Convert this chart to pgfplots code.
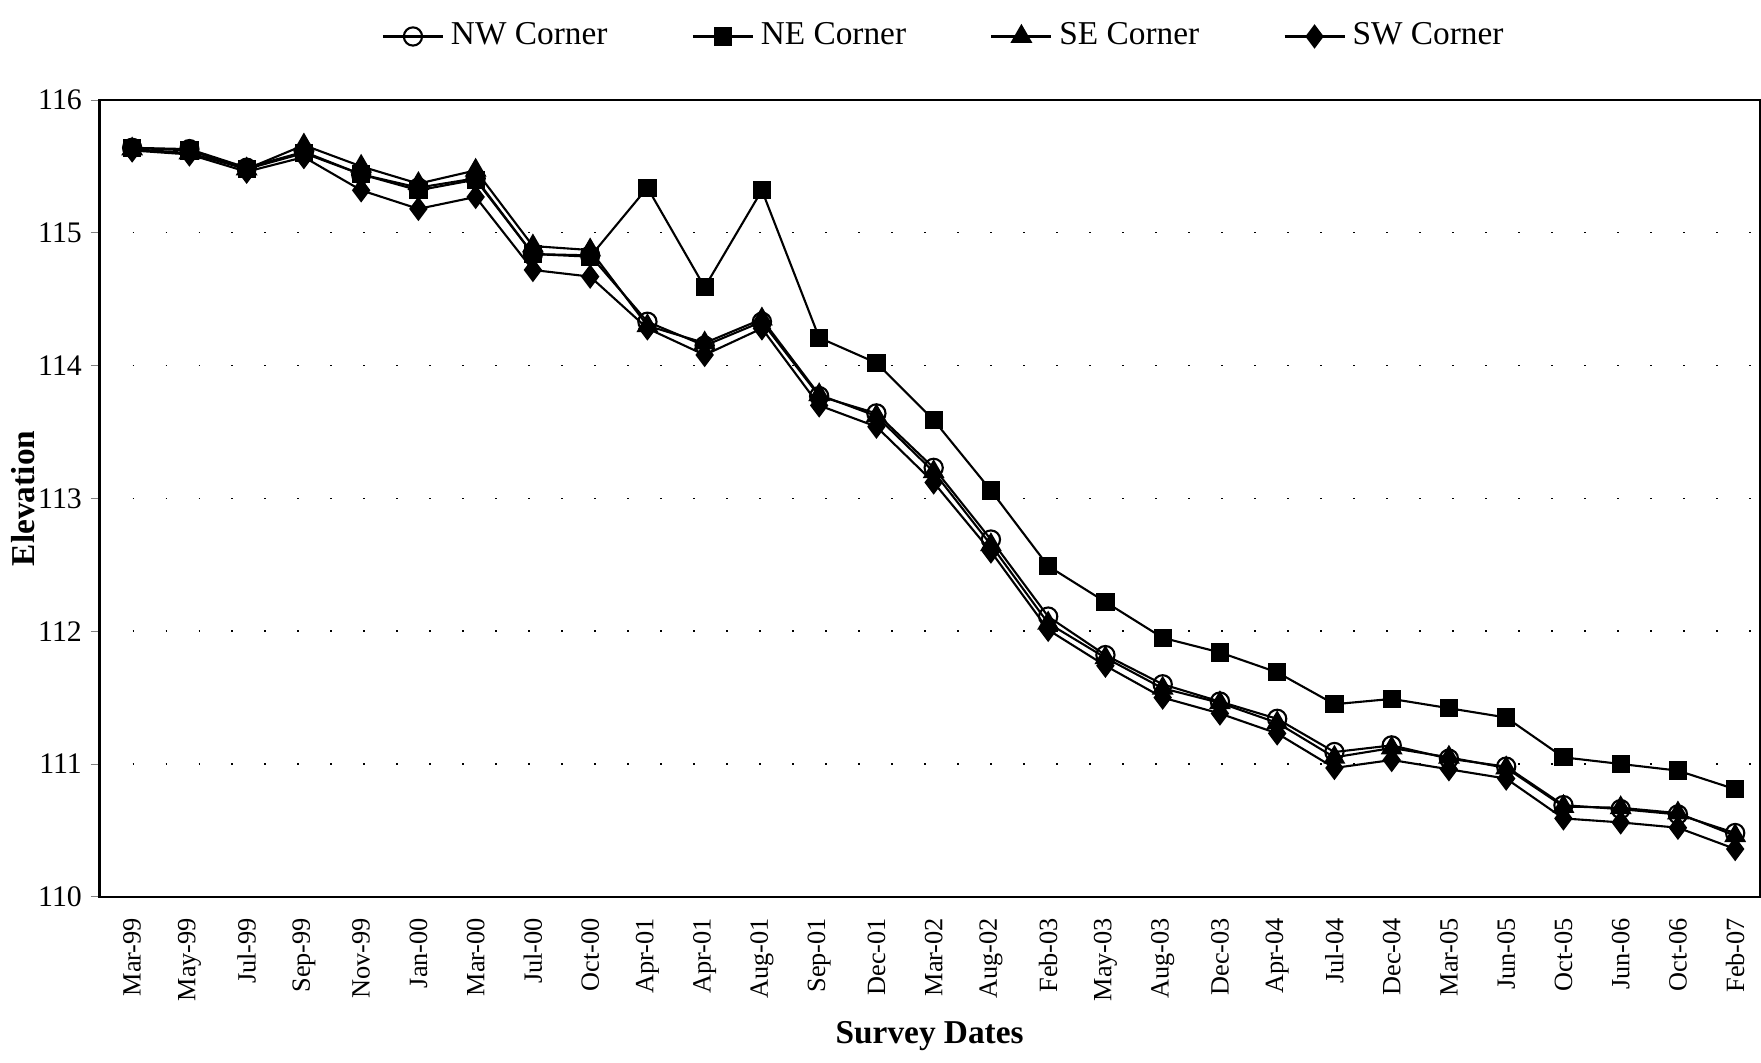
\documentclass[border=0pt]{standalone}
\usepackage{fontspec}
\setmainfont{Liberation Serif}
\usepackage{pgfplots}
\pgfplotsset{compat=1.18}

\pgfplotstableread{
x NW NE SE SW
0 115.64 115.64 115.63 115.62
1 115.63 115.62 115.60 115.59
2 115.49 115.48 115.48 115.46
3 115.61 115.60 115.66 115.57
4 115.44 115.44 115.50 115.32
5 115.34 115.32 115.37 115.18
6 115.41 115.40 115.47 115.27
7 114.84 114.84 114.90 114.72
8 114.83 114.82 114.87 114.67
9 114.33 115.34 114.30 114.28
10 114.15 114.59 114.17 114.08
11 114.33 115.32 114.35 114.28
12 113.77 114.21 113.78 113.70
13 113.64 114.02 113.62 113.54
14 113.23 113.59 113.20 113.12
15 112.69 113.06 112.65 112.60
16 112.11 112.49 112.06 112.01
17 111.82 112.22 111.80 111.74
18 111.60 111.95 111.57 111.50
19 111.47 111.84 111.46 111.38
20 111.34 111.69 111.31 111.23
21 111.09 111.45 111.05 110.97
22 111.14 111.49 111.12 111.03
23 111.04 111.42 111.05 110.96
24 110.98 111.35 110.97 110.89
25 110.69 111.05 110.68 110.59
26 110.66 111.00 110.67 110.56
27 110.62 110.95 110.63 110.52
28 110.48 110.81 110.46 110.36
}\elev

\begin{document}
\begin{tikzpicture}
\begin{axis}[
    scale only axis,
    width=473pt, height=227pt,
    xmin=-0.57, xmax=28.43,
    ymin=110, ymax=116,
    ytick={110,111,...,116},
    ytick pos=left,
    xtick=data,
    xticklabels={Mar-99,May-99,Jul-99,Sep-99,Nov-99,Jan-00,Mar-00,Jul-00,Oct-00,Apr-01,Apr-01,Aug-01,Sep-01,Dec-01,Mar-02,Aug-02,Feb-03,May-03,Aug-03,Dec-03,Apr-04,Jul-04,Dec-04,Mar-05,Jun-05,Oct-05,Jun-06,Oct-06,Feb-07},
    x tick label style={rotate=90, anchor=east, font=\fontsize{7.5}{8}\selectfont},
    y tick label style={font=\fontsize{8.5}{10}\selectfont, xshift=1pt},
    /pgf/number format/assume math mode=true,
    major x tick style={draw=none},
    major tick length=2.5pt,
    tick align=outside,
    ymajorgrids=true,
    grid style={black, line width=0.4pt, dash pattern=on 0.4pt off 9pt},
    axis line style={line width=0.7pt},
    xlabel={\textbf{Survey Dates}},
    ylabel={\textbf{Elevation}},
    label style={font=\fontsize{9.5}{11}\selectfont},
    xlabel style={yshift=1pt},
    ylabel style={yshift=-6pt},
    legend style={at={(0.51,1.0)}, anchor=south, yshift=10pt, draw=none,
        font=\fontsize{9.5}{11}\selectfont, legend columns=4,
        /tikz/every even column/.append style={column sep=22pt}},
    every axis plot/.append style={black, line width=0.6pt, mark size=2.6pt},
]
\addplot[mark=square*, mark size=2.3pt, forget plot] table[x=x, y=NE] {\elev};
\addplot[mark=o] table[x=x, y=NW] {\elev};
\addlegendentry{NW Corner}
\addlegendimage{black, line width=0.6pt, mark=square*, mark size=2.3pt}
\addlegendentry{NE Corner}
\addplot[mark=triangle*, mark size=3pt] table[x=x, y=SE] {\elev};
\addlegendentry{SE Corner}
\addplot[mark=diamond*, mark size=3pt] table[x=x, y=SW] {\elev};
\addlegendentry{SW Corner}
\end{axis}
\path (current bounding box.north) ++(0,2.5pt) coordinate (topgap);
\path (topgap) -- (current bounding box.south);
\end{tikzpicture}
\end{document}
